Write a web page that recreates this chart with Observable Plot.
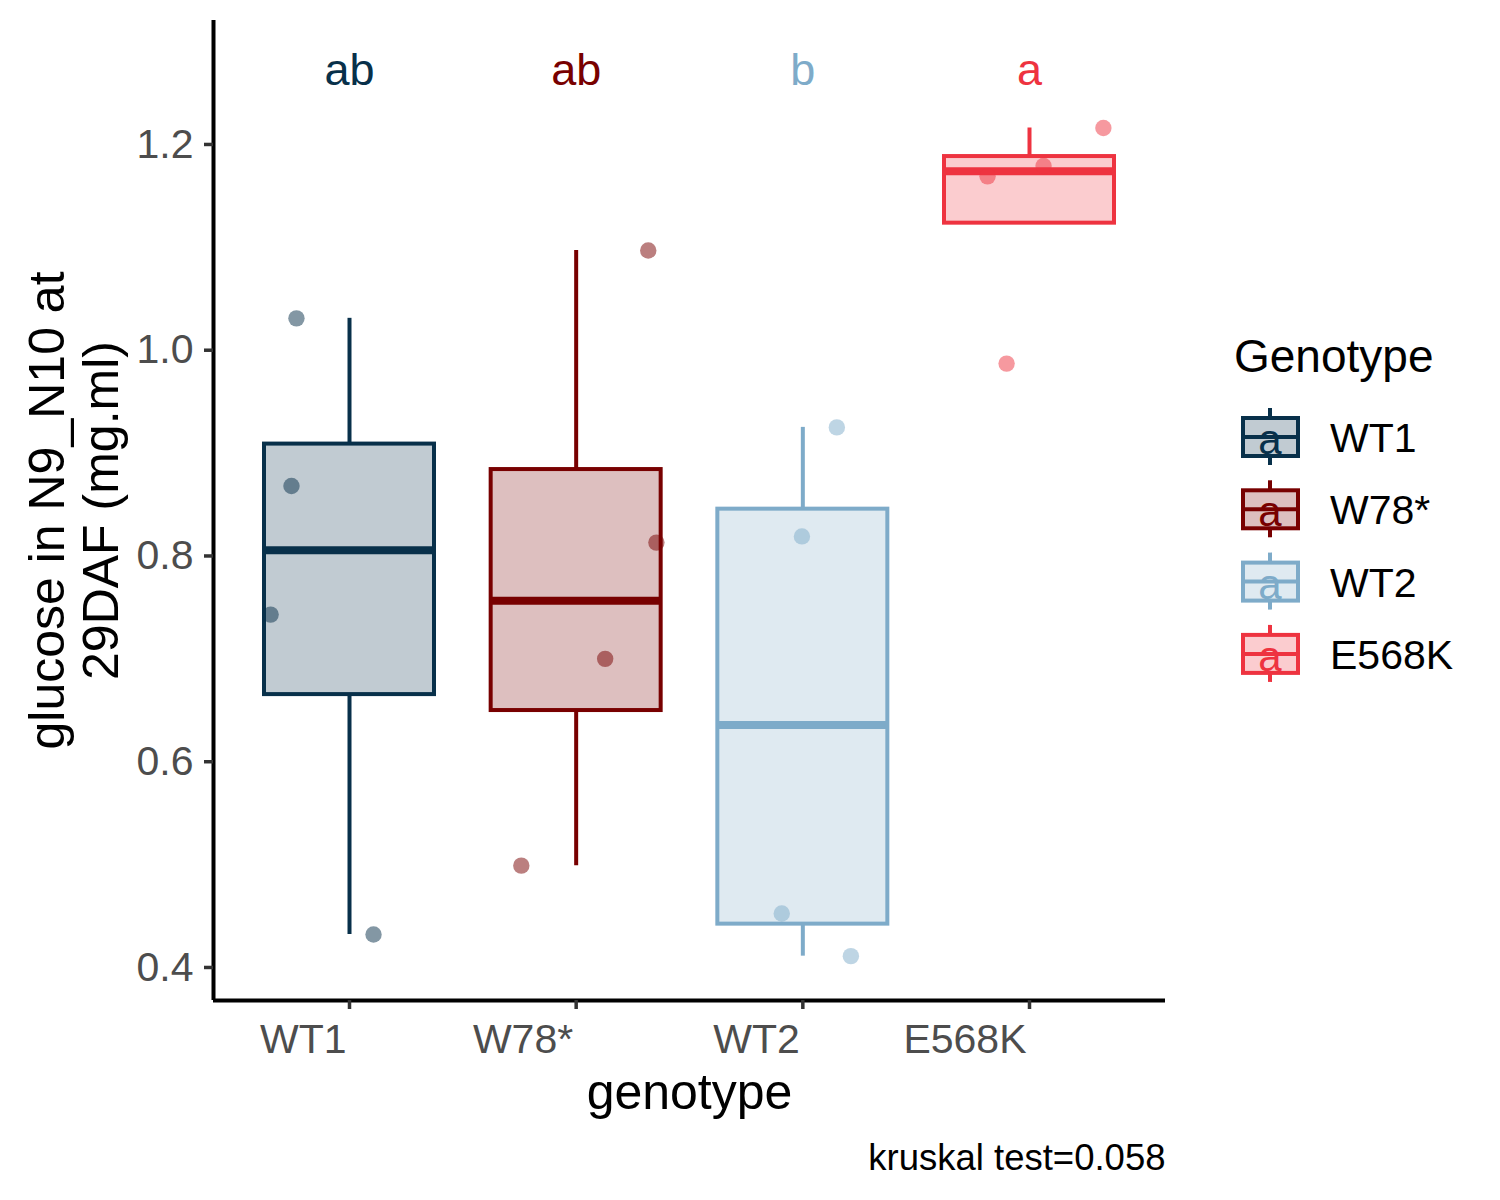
<!DOCTYPE html>
<html>
<head>
<meta charset="utf-8">
<script src="https://cdn.jsdelivr.net/npm/d3@7"></script>
<script src="https://cdn.jsdelivr.net/npm/@observablehq/plot@0.6"></script>
<style>
  body { margin: 0; background: #ffffff; }
  #chart { position: relative; width: 1500px; height: 1200px; }
</style>
</head>
<body>
<div id="chart"></div>
<script>
// ---- data ----
const genotypes = ["WT1", "W78*", "WT2", "E568K"];
const colors = ["#08304a", "#780000", "#7eabc9", "#ee3340"];
const sigLetters = ["ab", "ab", "b", "a"];
const letterY = 1.272;

const valuesWT1   = [1.031, 0.868, 0.743, 0.432];
const valuesW78   = [1.097, 0.813, 0.700, 0.499];
const valuesWT2   = [0.925, 0.819, 0.4525, 0.411];
const valuesE568K = [1.216, 1.179, 1.169, 0.987];

// horizontal jitter of the points, in category units
const jitterWT1   = [-0.234, -0.256, -0.348, 0.106];
const jitterW78   = [0.318, 0.354, 0.128, -0.242];
const jitterWT2   = [0.150, -0.004, -0.093, 0.212];
const jitterE568K = [0.326, 0.062, -0.185, -0.101];

const yTicks = [0.4, 0.6, 0.8, 1.0, 1.2];
const yTitle = "glucose in N9_N10 at\n29DAF (mg.ml)";
const xTitle = "genotype";
const legendTitle = "Genotype";
const caption = "kruskal test=0.058";

// ---- derived tables ----
const groups = [valuesWT1, valuesW78, valuesWT2, valuesE568K];
const jitters = [jitterWT1, jitterW78, jitterWT2, jitterE568K];

const points = groups.flatMap((vals, i) =>
  vals.map((v, j) => ({i, genotype: genotypes[i], x: i + jitters[i][j], y: v})));

const stats = groups.map((vals, i) => {
  const s = vals.slice().sort(d3.ascending);
  const q1 = d3.quantile(s, 0.25), med = d3.quantile(s, 0.5), q3 = d3.quantile(s, 0.75);
  const iqr = q3 - q1;
  const lo = d3.min(s.filter(v => v >= q1 - 1.5 * iqr));
  const hi = d3.max(s.filter(v => v <= q3 + 1.5 * iqr));
  return {i, genotype: genotypes[i], q1, med, q3, lo, hi, letter: sigLetters[i]};
});

const xDomain = [-0.6, genotypes.length - 1 + 0.6];
const yDomain = [0.3679, 1.3205];
const halfBox = 0.375;
const xTickPos = genotypes.map((g, i) => i);
const font = "'Liberation Sans', Arial, Helvetica, sans-serif";

const svg = Plot.plot({
  width: 1500,
  height: 1200,
  marginLeft: 213,
  marginRight: 335,
  marginTop: 20,
  marginBottom: 200,
  x: {type: "linear", domain: xDomain},
  y: {domain: yDomain},
  color: {domain: genotypes, range: colors},
  style: {fontFamily: font, background: "#ffffff", overflow: "visible"},
  marks: [
    // whiskers
    Plot.ruleX(stats.filter(d => d.hi > d.q3), {x: "i", y1: "q3", y2: "hi", stroke: "genotype", strokeWidth: 4}),
    Plot.ruleX(stats.filter(d => d.lo < d.q1), {x: "i", y1: "lo", y2: "q1", stroke: "genotype", strokeWidth: 4}),
    // boxes
    Plot.rect(stats, {
      x1: d => d.i - halfBox, x2: d => d.i + halfBox, y1: "q1", y2: "q3",
      fill: "genotype", fillOpacity: 0.25, stroke: "genotype", strokeWidth: 4
    }),
    // medians
    Plot.ruleY(stats, {y: "med", x1: d => d.i - halfBox, x2: d => d.i + halfBox, stroke: "genotype", strokeWidth: 8}),
    // jittered points
    Plot.dot(points, {x: "x", y: "y", fill: "genotype", fillOpacity: 0.5, r: 8.2}),
    // significance letters
    Plot.text(stats, {x: "i", y: () => letterY, text: "letter", fill: "genotype", fontSize: 45}),
    // axis lines
    Plot.ruleX([xDomain[0]], {stroke: "black", strokeWidth: 4}),
    Plot.ruleY([yDomain[0]], {stroke: "black", strokeWidth: 4}),
    // axes
    Plot.axisY({
      ticks: yTicks, tickFormat: d3.format(".1f"), tickSize: 9, tickPadding: 11,
      fontSize: 41, stroke: "#333333", fill: "#4d4d4d", strokeWidth: 3.5, label: null
    }),
    // x ticks (marks only)
    Plot.axisX({
      ticks: xTickPos, tickFormat: () => "", tickSize: 9, tickPadding: 14,
      stroke: "#333333", strokeWidth: 3.5, label: null
    }),
    // x tick labels (right-aligned on the ticks)
    Plot.axisX({
      ticks: xTickPos, tickFormat: i => genotypes[i], tickSize: 0, tickPadding: 23,
      textAnchor: "end", dx: -3, fontSize: 41, fill: "#4d4d4d", label: null
    }),
    // titles
    Plot.text([yTitle], {text: d => d, frameAnchor: "left", textAnchor: "middle", lineAnchor: "middle",
      rotate: -90, dx: -140, fontSize: 50, lineHeight: 1.08, fill: "black"}),
    Plot.text([xTitle], {text: d => d, frameAnchor: "bottom", lineAnchor: "middle", dy: 92, fontSize: 50, fill: "black"}),
    Plot.text([caption], {text: d => d, frameAnchor: "bottom-right", textAnchor: "end", lineAnchor: "middle",
      dy: 158, fontSize: 36.5, fill: "black"})
  ]
});

// ---- legend (drawn on the same svg) ----
const leg = d3.select(svg).append("g").attr("font-family", font).attr("text-anchor", "start");
leg.append("text").attr("x", 1234).attr("y", 372).attr("font-size", 46).attr("fill", "black")
  .attr("text-anchor", "start").text(legendTitle);
genotypes.forEach((g, k) => {
  const cy = 437 + k * 72.3;
  const c = colors[k];
  const kg = leg.append("g");
  kg.append("line").attr("x1", 1270).attr("x2", 1270).attr("y1", cy - 29).attr("y2", cy - 19)
    .attr("stroke", c).attr("stroke-width", 4);
  kg.append("line").attr("x1", 1270).attr("x2", 1270).attr("y1", cy + 19).attr("y2", cy + 28)
    .attr("stroke", c).attr("stroke-width", 4);
  kg.append("rect").attr("x", 1243).attr("y", cy - 19).attr("width", 55).attr("height", 38)
    .attr("fill", c).attr("fill-opacity", 0.25).attr("stroke", c).attr("stroke-width", 4);
  kg.append("line").attr("x1", 1243).attr("x2", 1298).attr("y1", cy).attr("y2", cy)
    .attr("stroke", c).attr("stroke-width", 4);
  kg.append("text").attr("x", 1270).attr("y", cy + 17).attr("text-anchor", "middle")
    .attr("font-size", 42).attr("fill", c).text("a");
  kg.append("text").attr("x", 1330).attr("y", cy + 15).attr("font-size", 41)
    .attr("text-anchor", "start").attr("fill", "black").text(g);
});

document.getElementById("chart").appendChild(svg);
</script>
</body>
</html>
